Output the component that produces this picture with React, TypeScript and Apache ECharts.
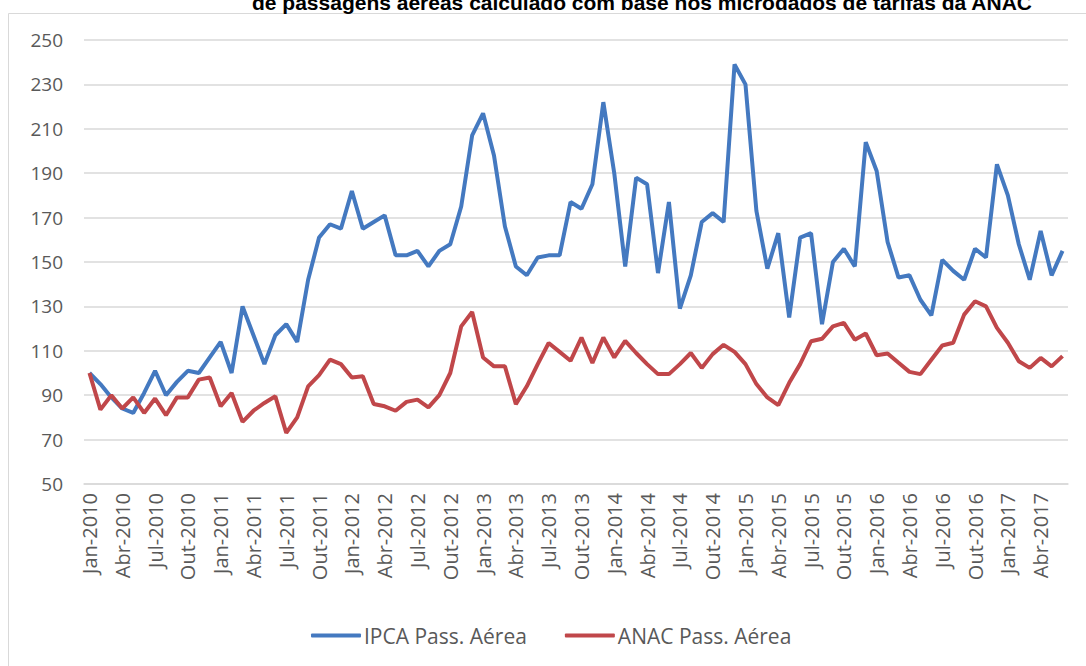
import React, { useEffect, useRef } from "react";
import * as echarts from "echarts";

const categories = [
  "Jan-2010","Fev-2010","Mar-2010","Abr-2010","Mai-2010","Jun-2010","Jul-2010","Ago-2010","Set-2010","Out-2010","Nov-2010","Dez-2010",
  "Jan-2011","Fev-2011","Mar-2011","Abr-2011","Mai-2011","Jun-2011","Jul-2011","Ago-2011","Set-2011","Out-2011","Nov-2011","Dez-2011",
  "Jan-2012","Fev-2012","Mar-2012","Abr-2012","Mai-2012","Jun-2012","Jul-2012","Ago-2012","Set-2012","Out-2012","Nov-2012","Dez-2012",
  "Jan-2013","Fev-2013","Mar-2013","Abr-2013","Mai-2013","Jun-2013","Jul-2013","Ago-2013","Set-2013","Out-2013","Nov-2013","Dez-2013",
  "Jan-2014","Fev-2014","Mar-2014","Abr-2014","Mai-2014","Jun-2014","Jul-2014","Ago-2014","Set-2014","Out-2014","Nov-2014","Dez-2014",
  "Jan-2015","Fev-2015","Mar-2015","Abr-2015","Mai-2015","Jun-2015","Jul-2015","Ago-2015","Set-2015","Out-2015","Nov-2015","Dez-2015",
  "Jan-2016","Fev-2016","Mar-2016","Abr-2016","Mai-2016","Jun-2016","Jul-2016","Ago-2016","Set-2016","Out-2016","Nov-2016","Dez-2016",
  "Jan-2017","Fev-2017","Mar-2017","Abr-2017","Mai-2017","Jun-2017",
];

const ipcaPassAerea = [
  100, 95, 89, 84, 82, 91, 101, 90, 96, 101, 100, 107,
  114, 100, 130, 117, 104, 117, 122, 114, 142, 161, 167, 165,
  182, 165, 168, 171, 153, 153, 155, 148, 155, 158, 175, 207,
  217, 198, 166, 148, 144, 152, 153, 153, 177, 174, 185, 222,
  190, 148, 188, 185, 145, 177, 129, 144, 168, 172, 168, 239,
  230, 173, 147, 163, 125, 161, 163, 122, 150, 156, 148, 204,
  191, 159, 143, 144, 133, 126, 151, 146, 142, 156, 152, 194,
  180, 158, 142, 164, 144, 155,
];

const anacPassAerea = [
  100, 83.5, 90, 84, 89, 82, 88.5, 81, 89, 89, 97, 98,
  85, 91, 78, 83, 86.5, 89.5, 73, 80, 94, 99, 106, 104,
  98, 98.5, 86, 85, 83, 87, 88, 84.5, 90, 100, 121, 127.5,
  107, 103, 103, 86, 94, 104, 113.5, 109.5, 105.5, 116, 104.5, 116,
  107, 114.5, 109, 104, 99.5, 99.5, 104, 109, 102.3, 108.5, 112.7, 109.5,
  104, 95, 89, 85.5, 95.6, 104, 114.3, 115.4, 121, 122.6, 115, 117.8,
  108, 108.8, 104.6, 100.5, 99.5, 106, 112.4, 113.6, 126.3, 132.3, 130, 120.3,
  113.6, 105.3, 102.3, 106.8, 103, 107.6,
];

const seriesNames = ["IPCA Pass. Aérea", "ANAC Pass. Aérea"];
const titleText = "de passagens aéreas calculado com base nos microdados de tarifas da ANAC";

export default function App() {
  const ref = useRef<HTMLDivElement>(null);
  useEffect(() => {
    document.body.style.margin = "0";
    const chart = echarts.init(ref.current!, null, { renderer: "svg" });
    const font = '"Open Sans", sans-serif';
    chart.setOption({
      animation: false,
      backgroundColor: "#ffffff",
      graphic: [
        {
          type: "rect",
          shape: { x: 8.5, y: 13.5, width: 1200, height: 800 },
          style: { fill: "none", stroke: "#d9d9d9", lineWidth: 1 },
          silent: true,
          z: -1,
        },
        {
          type: "text",
          x: 252,
          y: 13,
          style: {
            text: titleText,
            font: 'bold 21px "Liberation Sans", Arial, sans-serif',
            fill: "#000000",
            verticalAlign: "bottom",
          },
        },
      ],
      grid: { left: 84, right: 18, top: 40, bottom: 182, containLabel: false },
      legend: {
        data: [
          { name: seriesNames[0], icon: "roundRect" },
          { name: seriesNames[1], icon: "roundRect" },
        ],
        left: 306,
        top: 620,
        itemWidth: 50,
        itemHeight: 4,
        itemGap: 38,
        textStyle: { fontFamily: font, fontSize: 21, color: "#595959", padding: [0, 0, 0, -2] },
      },
      xAxis: {
        type: "category",
        data: categories,
        boundaryGap: true,
        axisLine: { show: true, lineStyle: { color: "#d9d9d9", width: 1.5 } },
        axisTick: { show: false },
        axisLabel: {
          interval: 2,
          rotate: 90,
          margin: 9,
          fontFamily: font,
          fontSize: 20,
          color: "#595959",
        },
      },
      yAxis: {
        type: "value",
        min: 50,
        max: 250,
        interval: 20,
        axisLine: { show: false },
        axisTick: { show: false },
        splitLine: { lineStyle: { color: "#d9d9d9", width: 1.5 } },
        axisLabel: { fontFamily: font, fontSize: 19, color: "#595959", margin: 21 },
      },
      series: [
        {
          name: seriesNames[0],
          type: "line",
          data: ipcaPassAerea,
          symbol: "none",
          color: "#4479c0",
          lineStyle: { width: 4, color: "#4479c0" },
        },
        {
          name: seriesNames[1],
          type: "line",
          data: anacPassAerea,
          symbol: "none",
          color: "#c0474a",
          lineStyle: { width: 4, color: "#c0474a" },
        },
      ],
    });
    return () => chart.dispose();
  }, []);
  return <div ref={ref} style={{ width: 1086, height: 666 }} />;
}
